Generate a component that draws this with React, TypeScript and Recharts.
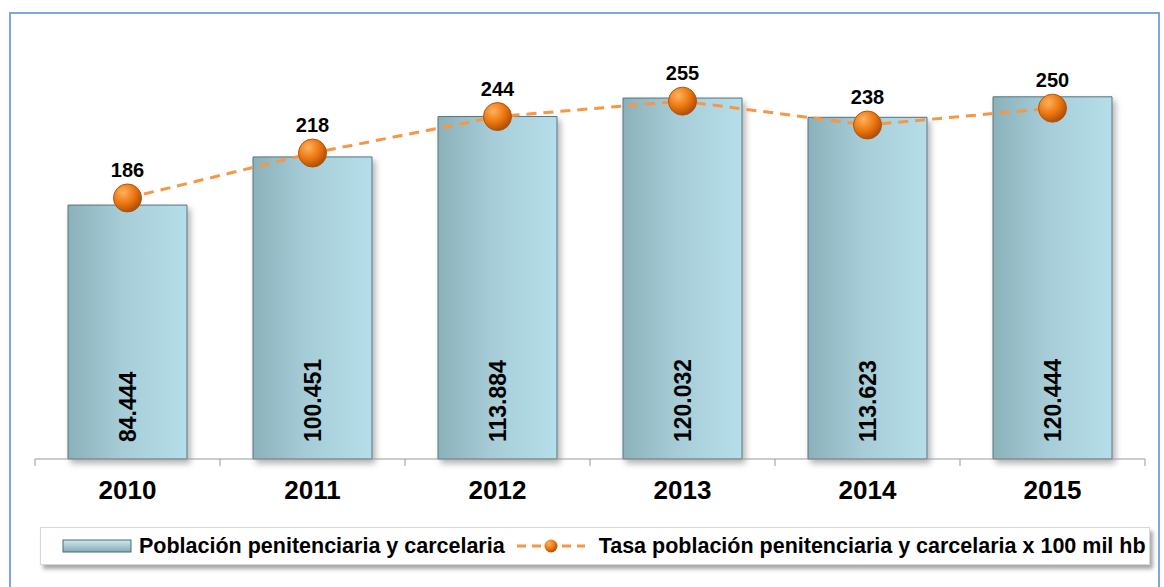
import { Bar, ComposedChart, LabelList, Legend, Line, XAxis, YAxis } from "recharts";

const years = ["2010", "2011", "2012", "2013", "2014", "2015"];
const poblacion = [84444, 100451, 113884, 120032, 113623, 120444];
const tasa = [186, 218, 244, 255, 238, 250];

const data = years.map((y, i) => ({ year: y, poblacion: poblacion[i], tasa: tasa[i] }));

const W = 1164;
const H = 587;
const M = { top: 38, right: 19, left: 35, bottom: 88 };
const halfBand = (W - M.left - M.right) / years.length / 2;
const font = "Arial, 'Liberation Sans', sans-serif";

// 84444 -> "84.444"
const fmt = (v: number) => String(v).replace(/\B(?=(\d{3})+(?!\d))/g, ".");

function YearTick(props: any) {
  const { x, y, payload, index } = props;
  return (
    <g>
      <line x1={x - halfBand} x2={x - halfBand} y1={y} y2={y + 7} stroke="#999" />
      {index === years.length - 1 && <line x1={x + halfBand} x2={x + halfBand} y1={y} y2={y + 7} stroke="#999" />}
      <text x={x} y={y + 40} textAnchor="middle" fontFamily={font} fontWeight="bold" fontSize={26} fill="#000">
        {payload.value}
      </text>
    </g>
  );
}

function BarValue(props: any) {
  const { x, y, width, height, value } = props;
  const cx = x + width / 2;
  const by = y + height - 17;
  return (
    <text
      x={cx}
      y={by}
      transform={`rotate(-90 ${cx} ${by})`}
      textAnchor="start"
      dominantBaseline="central"
      fontFamily={font}
      fontWeight="bold"
      fontSize={23}
      fill="#000"
    >
      {fmt(value)}
    </text>
  );
}

function Ball(props: any) {
  const { cx, cy } = props;
  if (cx == null || cy == null) return null;
  return <circle cx={cx} cy={cy} r={14} fill="url(#ballGrad)" stroke="#b4520e" strokeWidth={1} />;
}

function LegendBox() {
  return (
    <div
      style={{
        height: 38,
        background: "#fff",
        border: "1px solid #d8d8d8",
        boxShadow: "3px 4px 4px rgba(0,0,0,0.35)",
        display: "flex",
        alignItems: "center",
        fontFamily: font,
        fontWeight: "bold",
        fontSize: 21.5,
        color: "#000",
        boxSizing: "border-box",
        whiteSpace: "nowrap",
      }}
    >
      <svg width={70} height={14} style={{ marginLeft: 21, marginRight: 7 }}>
        <defs>
          <linearGradient id="legBar" x1="0" y1="0" x2="0" y2="1">
            <stop offset="0" stopColor="#cfe9f0" />
            <stop offset="1" stopColor="#86aab4" />
          </linearGradient>
        </defs>
        <rect x={1} y={1} width={68} height={12} fill="url(#legBar)" stroke="#4d6b75" />
      </svg>
      <span>Población penitenciaria y carcelaria</span>
      <svg width={72} height={20} style={{ marginLeft: 10, marginRight: 12 }}>
        <defs>
          <radialGradient id="legBall" cx="0.35" cy="0.3" r="0.75">
            <stop offset="0" stopColor="#ffb060" />
            <stop offset="0.6" stopColor="#e8720c" />
            <stop offset="1" stopColor="#a9490a" />
          </radialGradient>
        </defs>
        <line x1={2} x2={70} y1={10} y2={10} stroke="#f79646" strokeWidth={3} strokeDasharray="9 6" />
        <circle cx={36} cy={10} r={6.5} fill="url(#legBall)" />
      </svg>
      <span>Tasa población penitenciaria y carcelaria x 100 mil hb</span>
    </div>
  );
}

export default function App() {
  return (
    <div style={{ position: "absolute", left: 0, top: 0, width: W, height: H, background: "#fff", overflow: "hidden" }}>
      <div
        style={{
          position: "absolute",
          left: 9,
          top: 12,
          width: 1151,
          height: 600,
          border: "2px solid #7fa6e0",
          boxSizing: "border-box",
        }}
      />
      <ComposedChart width={W} height={H} data={data} margin={M} style={{ position: "absolute", left: 0, top: 0 }}>
        <defs>
          <linearGradient id="barGrad" x1="0" y1="0" x2="1" y2="0">
            <stop offset="0" stopColor="#8bb1bb" />
            <stop offset="0.45" stopColor="#a6cdd7" />
            <stop offset="1" stopColor="#b6deea" />
          </linearGradient>
          <radialGradient id="ballGrad" cx="0.35" cy="0.3" r="0.75">
            <stop offset="0" stopColor="#ffb25f" />
            <stop offset="0.55" stopColor="#ec760e" />
            <stop offset="1" stopColor="#a84a08" />
          </radialGradient>
          <filter id="shadow" x="-10%" y="-10%" width="130%" height="130%">
            <feDropShadow dx={3} dy={4} stdDeviation={3} floodColor="#000" floodOpacity={0.3} />
          </filter>
        </defs>
        <XAxis
          dataKey="year"
          height={40}
          tickSize={0}
          tickMargin={0}
          axisLine={{ stroke: "#999" }}
          tick={<YearTick />}
          interval={0}
        />
        <YAxis yAxisId="left" domain={[0, 140000]} hide />
        <YAxis yAxisId="right" orientation="right" domain={[0, 300]} hide />
        <Bar
          yAxisId="left"
          dataKey="poblacion"
          name="Población penitenciaria y carcelaria"
          barSize={119}
          fill="url(#barGrad)"
          stroke="#557580"
          strokeWidth={1}
          filter="url(#shadow)"
          isAnimationActive={false}
        >
          <LabelList dataKey="poblacion" content={<BarValue />} />
        </Bar>
        <Line
          yAxisId="right"
          dataKey="tasa"
          name="Tasa población penitenciaria y carcelaria x 100 mil hb"
          type="linear"
          stroke="#f79646"
          strokeWidth={3}
          strokeDasharray="10 7"
          dot={<Ball />}
          activeDot={false}
          isAnimationActive={false}
        >
          <LabelList dataKey="tasa" position="top" offset={21} fontFamily={font} fontWeight="bold" fontSize={20} fill="#000" />
        </Line>
        <Legend
          layout="horizontal"
          verticalAlign="middle"
          align="center"
          wrapperStyle={{ left: 40, top: 527, width: 1110 }}
          content={<LegendBox />}
        />
      </ComposedChart>
    </div>
  );
}
